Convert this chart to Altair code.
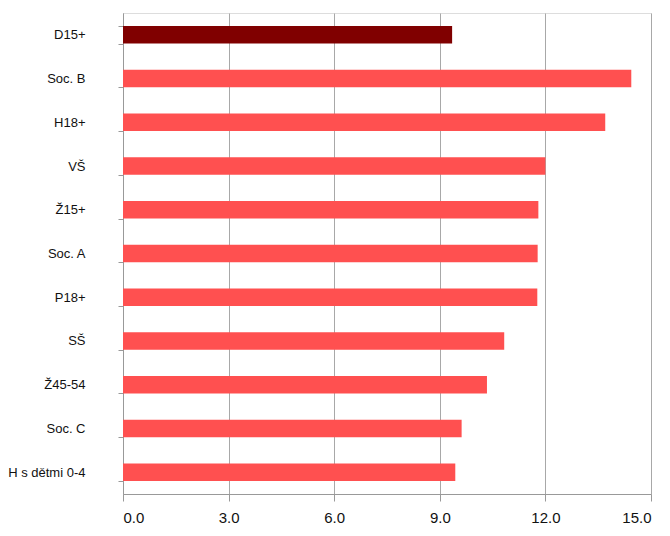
import altair as alt
import pandas as pd

categories = ["D15+", "Soc. B", "H18+", "VŠ", "Ž15+", "Soc. A", "P18+", "SŠ", "Ž45-54", "Soc. C", "H s dětmi 0-4"]
values = [9.35, 14.44, 13.70, 12.00, 11.80, 11.78, 11.77, 10.83, 10.34, 9.62, 9.44]
groups = ["base", "other", "other", "other", "other", "other", "other", "other", "other", "other", "other"]
x_ticks = [0, 3, 6, 9, 12, 15]

df = pd.DataFrame({"cat": categories, "val": values, "grp": groups})

FONT = "Liberation Sans"

chart = alt.Chart(df).mark_bar().encode(
    y=alt.Y("cat:N", sort=categories, title=None,
            scale=alt.Scale(paddingInner=0.6, paddingOuter=0.3),
            axis=alt.Axis(tickBand="extent", grid=False, domainColor="#999999", tickColor="#999999",
                          tickSize=5, labelPadding=33, labelFont=FONT, labelFontSize=13,
                          labelLimit=200, labelColor="#111111", domainWidth=1)),
    x=alt.X("val:Q", title=None,
            scale=alt.Scale(domain=[0, 15], nice=False),
            axis=alt.Axis(values=x_ticks, format=".1f", grid=True, gridColor="#A8A8A8",
                          domainColor="#999999", tickColor="#999999", tickSize=7,
                          labelPadding=9, labelFont=FONT, labelFontSize=15,
                          labelColor="#111111")),
    color=alt.Color("grp:N", scale=alt.Scale(domain=["base", "other"], range=["#800000", "#FF5050"]),
                    legend=None),
).properties(
    width=528, height=481,
    autosize=alt.AutoSizeParams(type="none"),
    padding={"left": 115, "top": 5, "right": 11, "bottom": 34},
).configure_view(stroke=None).configure(background="white")

chart.save("out.html", embed_options={"renderer": "svg", "actions": False})
